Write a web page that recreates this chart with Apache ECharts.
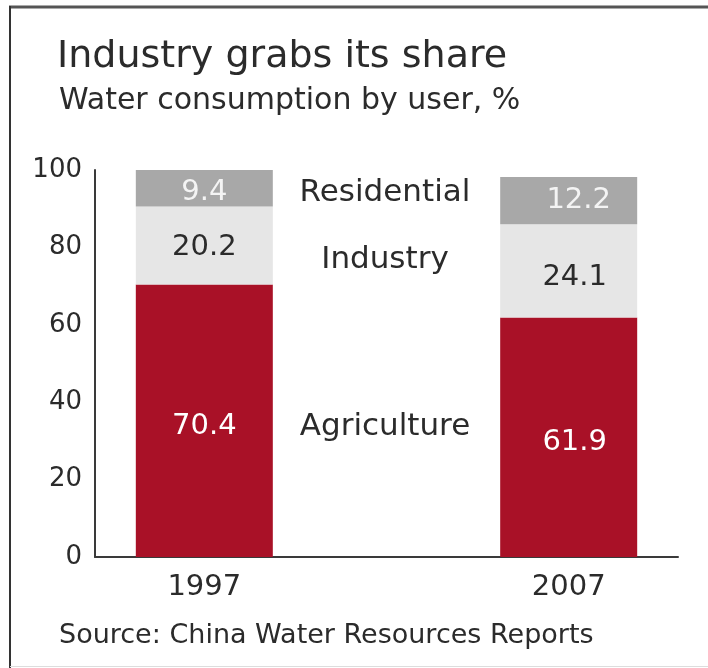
<!DOCTYPE html>
<html>
<head>
<meta charset="utf-8">
<script src="https://cdn.jsdelivr.net/npm/echarts@6/dist/echarts.min.js"></script>
<style>
  html, body { margin: 0; padding: 0; background: #fff; }
  #chart { width: 708px; height: 668px; }
</style>
</head>
<body>
<div id="chart"></div>
<script>
// Water consumption by user, % of total
const years = [1997, 2007];
const agriculture = [70.4, 61.9];
const industry = [20.2, 24.1];
const residential = [9.4, 12.2];
const yTicks = [0, 20, 40, 60, 80, 100];
const userNames = ['Agriculture', 'Industry', 'Residential'];

const FONT = '"DejaVu Sans", sans-serif';
const chart = echarts.init(document.getElementById('chart'), null, { renderer: 'canvas' });

// each item is [share, year]; the share comes first so the stack runs on it
function seriesData(values, offsets) {
  return values.map((v, i) => ({
    value: [v, years[i]],
    label: { offset: offsets[i] }
  }));
}

function barSeries(name, values, color, textColor, offsets) {
  return {
    name: name,
    type: 'bar',
    stack: 'share',
    barWidth: 137,
    encode: { x: 1, y: 0 },
    data: seriesData(values, offsets),
    itemStyle: { color: color },
    label: {
      show: true,
      position: 'inside',
      formatter: p => p.value[0].toFixed(1),
      color: textColor,
      fontFamily: FONT,
      fontSize: 29
    },
    emphasis: { disabled: true },
    silent: true
  };
}

const userLabel = (text, y) => ({
  type: 'text', x: 385, y: y,
  style: { text: text, align: 'center', verticalAlign: 'middle', font: '31px ' + FONT, fill: '#2b2b2b' }
});

chart.setOption({
  animation: false,
  backgroundColor: '#fff',
  title: [
    {
      text: 'Industry grabs its share',
      left: 52, top: 33,
      textStyle: { fontFamily: FONT, fontSize: 38, fontWeight: 'normal', color: '#2b2b2b' }
    },
    {
      text: 'Water consumption by user, %',
      left: 54, top: 81,
      textStyle: { fontFamily: FONT, fontSize: 30, fontWeight: 'normal', color: '#2b2b2b' }
    },
    {
      text: 'Source: China Water Resources Reports',
      left: 54, top: 617,
      textStyle: { fontFamily: FONT, fontSize: 27, fontWeight: 'normal', color: '#2b2b2b' }
    }
  ],
  grid: { left: 95, right: 30, top: 170, bottom: 111 },
  xAxis: {
    type: 'value',
    min: 1994,
    max: 2010,
    splitLine: { show: false },
    axisLine: { show: true, lineStyle: { color: '#3a3a3a', width: 2 } },
    axisTick: { show: false },
    axisLabel: {
      customValues: years,
      formatter: v => String(v),
      fontFamily: FONT, fontSize: 29, color: '#2b2b2b', margin: 16
    }
  },
  yAxis: {
    type: 'value',
    min: yTicks[0],
    max: yTicks[yTicks.length - 1],
    interval: 20,
    splitLine: { show: false },
    axisLine: { show: true, lineStyle: { color: '#3a3a3a', width: 2 } },
    axisTick: { show: false },
    axisLabel: { fontFamily: FONT, fontSize: 26, color: '#2b2b2b', margin: 13 }
  },
  series: [
    barSeries(userNames[0], agriculture, '#a91127', '#ffffff', [[0, 6], [6, 5]]),
    barSeries(userNames[1], industry, '#e6e6e6', '#2b2b2b', [[0, 2], [6, 7]]),
    barSeries(userNames[2], residential, '#a8a8a8', '#f4f4f4', [[0, 4], [10, 0]])
  ],
  graphic: [
    // frame round the graphic
    { type: 'line', shape: { x1: 9, y1: 7, x2: 708, y2: 7 }, style: { stroke: '#555', lineWidth: 3 } },
    { type: 'line', shape: { x1: 10, y1: 6, x2: 10, y2: 668 }, style: { stroke: '#333', lineWidth: 2 } },
    { type: 'line', shape: { x1: 10, y1: 666.5, x2: 708, y2: 666.5 }, style: { stroke: '#ddd', lineWidth: 1 } },
    // user labels between the bars
    userLabel(userNames[2], 193),
    userLabel(userNames[1], 260),
    userLabel(userNames[0], 427)
  ]
});
</script>
</body>
</html>
